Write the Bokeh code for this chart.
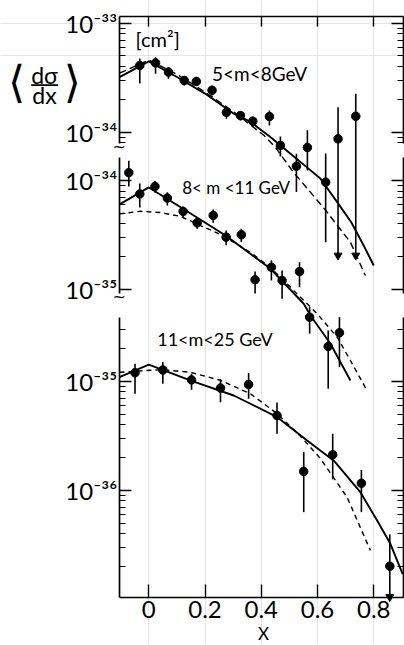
from bokeh.plotting import figure
from bokeh.models import (Range1d, LogScale, LogAxis, LinearAxis, FixedTicker,
                          CustomJSTickFormatter, Label, Arrow, ColumnDataSource)
from bokeh.embed import file_html
from bokeh.resources import INLINE

# ---------------- data ----------------
# Panel 1 : 5 < m < 8 GeV
x1 = [-0.032, 0.024, 0.070, 0.126, 0.169, 0.225, 0.276, 0.326, 0.370, 0.429,
      0.468, 0.525, 0.564, 0.629, 0.673, 0.736]
y1 = [4.09e-34, 4.32e-34, 3.56e-34, 2.98e-34, 2.92e-34, 2.42e-34, 1.52e-34, 1.42e-34,
      1.26e-34, 1.39e-34, 7.55e-35, 4.88e-35, 7.24e-35, 3.48e-35, 8.69e-35, 1.40e-34]
hi1 = [4.74e-34, 4.88e-34, 3.94e-34, 3.20e-34, 3.20e-34, 2.68e-34, 1.69e-34, 1.52e-34,
       1.39e-34, 1.58e-34, 9.14e-35, 6.34e-35, 1.04e-34, 6.38e-35, 1.69e-34, 2.25e-34]
lo1 = [2.80e-34, 3.44e-34, 3.09e-34, 2.68e-34, 2.68e-34, 2.17e-34, 1.33e-34, 1.28e-34,
       1.11e-34, 1.15e-34, 5.98e-35, 2.82e-35, 4.46e-35, 9.79e-36, 7.40e-36, 7.40e-36]
arrow1 = [False] * 14 + [True, True]
sx1 = [-0.104, 0.0, 0.1, 0.2, 0.3, 0.36, 0.43, 0.49, 0.54, 0.61, 0.67, 0.72, 0.764, 0.80]
sy1 = [3.20e-34, 4.46e-34, 3.21e-34, 2.26e-34, 1.49e-34, 1.25e-34, 9.14e-35, 6.79e-35,
       5.31e-35, 3.76e-35, 2.28e-35, 1.49e-35, 9.14e-36, 5.98e-36]
dx1 = [-0.104, 0.0, 0.1, 0.2, 0.3, 0.41, 0.45, 0.514, 0.585, 0.634, 0.669, 0.717, 0.77]
dy1 = [3.48e-34, 4.59e-34, 3.39e-34, 2.34e-34, 1.55e-34, 9.33e-35, 7.28e-35, 4.30e-35,
       2.62e-35, 1.85e-35, 1.41e-35, 9.79e-36, 4.84e-36]

# Panel 2 : 8 < m < 11 GeV
x2 = [-0.071, -0.032, 0.022, 0.066, 0.122, 0.172, 0.229, 0.275, 0.329, 0.378,
      0.436, 0.474, 0.536, 0.572, 0.638, 0.678]
y2 = [1.18e-34, 7.52e-35, 8.81e-35, 6.90e-35, 5.20e-35, 4.09e-35, 4.78e-35, 3.02e-35,
      3.18e-35, 1.23e-35, 1.60e-35, 1.21e-35, 1.46e-35, 5.57e-36, 3.00e-36, 4.01e-36]
hi2 = [1.52e-34, 9.38e-35, 9.89e-35, 7.81e-35, 5.77e-35, 4.61e-35, 5.42e-35, 3.48e-35,
       3.61e-35, 1.46e-35, 1.85e-35, 1.49e-35, 1.78e-35, 6.89e-36, 4.21e-36, 5.57e-36]
lo2 = [8.81e-35, 5.65e-35, 7.76e-35, 5.90e-35, 4.61e-35, 3.61e-35, 4.09e-35, 2.54e-35,
       2.72e-35, 9.18e-36, 1.21e-35, 8.22e-36, 1.05e-35, 3.93e-36, 1.23e-36, 1.94e-36]
sx2 = [-0.104, 0.0, 0.122, 0.273, 0.433, 0.551, 0.575, 0.646, 0.717]
sy2 = [6.03e-35, 8.63e-35, 5.50e-35, 3.13e-35, 1.55e-35, 7.40e-36, 5.77e-36, 3.18e-36, 1.46e-36]
dx2 = [-0.104, -0.030, 0.042, 0.113, 0.184, 0.255, 0.362, 0.433, 0.551, 0.599, 0.670, 0.717, 0.777]
dy2 = [4.94e-35, 5.22e-35, 5.08e-35, 4.68e-35, 3.86e-35, 3.20e-35, 2.18e-35, 1.59e-35,
       7.93e-36, 5.98e-36, 3.65e-36, 2.23e-36, 1.17e-36]

# Panel 3 : 11 < m < 25 GeV
x3 = [-0.049, 0.050, 0.152, 0.255, 0.355, 0.456, 0.551, 0.654, 0.756, 0.857]
y3 = [1.20e-35, 1.27e-35, 1.03e-35, 8.68e-36, 9.35e-36, 4.85e-36, 1.49e-36, 2.12e-36,
      1.16e-36, 2.01e-37]
hi3 = [1.45e-35, 1.50e-35, 1.17e-35, 1.05e-35, 1.19e-35, 6.40e-36, 2.24e-36, 3.30e-36,
       1.54e-36, 3.93e-37]
lo3 = [7.67e-36, 9.48e-36, 8.35e-36, 6.43e-36, 6.90e-36, 3.30e-36, 6.30e-37, 1.26e-36,
       6.30e-37, 1.05e-37]
arrow3 = [False] * 9 + [True]
sx3 = [-0.104, 0.0, 0.152, 0.302, 0.457, 0.563, 0.658, 0.753, 0.812, 0.859, 0.903]
sy3 = [1.09e-35, 1.42e-35, 1.01e-35, 7.41e-36, 4.69e-36, 2.86e-36, 1.87e-36, 9.55e-37,
       5.28e-37, 3.23e-37, 1.70e-37]
dx3 = [-0.104, 0.042, 0.148, 0.255, 0.362, 0.457, 0.540, 0.610, 0.705, 0.788]
dy3 = [1.21e-35, 1.28e-35, 1.21e-35, 1.02e-35, 7.67e-36, 5.04e-36, 3.12e-36, 1.96e-36,
       8.65e-37, 2.81e-37]

x_ticks = [0, 0.2, 0.4, 0.6, 0.8]
panel_titles = ["5<m<8GeV", "8< m <11 GeV", "11<m<25 GeV"]

# ---------------- figure ----------------
# The frame covers the whole canvas; the visible box is drawn with fixed-location axes.
FONT = "Lato"
X_LEFT, X_RIGHT = -0.105, 0.904          # x of the drawn box edges
Y_TOP1, Y_BOT1 = 10 ** -32.936, 10 ** -38.273   # box top / bottom in panel-1 units
XR = Range1d(-0.5273, 0.9093)
p = figure(width=404, height=644, min_border=0,
           x_range=XR, y_range=Range1d(10 ** -38.700, 10 ** -32.792),
           y_axis_type="log", x_axis_location=None, y_axis_location=None,
           output_backend="svg", toolbar_location=None)
p.extra_y_ranges = {"p2": Range1d(10 ** -38.257, 10 ** -32.349),
                    "p3": Range1d(10 ** -37.415, 10 ** -31.506)}
p.extra_y_scales = {"p2": LogScale(), "p3": LogScale()}
p.outline_line_color = None
p.background_fill_color = "white"
p.border_fill_color = "white"

sup_fmt = CustomJSTickFormatter(code="""
const e = Math.round(Math.log10(tick));
const s = {'-':'\u207b','0':'\u2070','1':'\u00b9','2':'\u00b2','3':'\u00b3','4':'\u2074',
           '5':'\u2075','6':'\u2076','7':'\u2077','8':'\u2078','9':'\u2079'};
return '10' + String(e).split('').map(c => s[c]).join('');
""")
blank_fmt = CustomJSTickFormatter(code="return '';")


def minors(lo, hi):
    out = []
    for e in range(-38, -31):
        for k in range(2, 10):
            v = k * 10.0 ** e
            if lo <= v <= hi:
                out.append(v)
    return out


panels = [
    ("default", (10 ** -34.104, Y_TOP1), [1e-34, 1e-33]),
    ("p2", (10 ** -35.037, 10 ** -33.789), [1e-35, 1e-34]),
    ("p3", (10 ** -36.988, 10 ** -34.415), [1e-36, 1e-35]),
]
for rname, bnds, majors in panels:
    for side, loc in (("left", X_LEFT), ("right", X_RIGHT)):
        ax = LogAxis(y_range_name=rname, bounds=bnds, fixed_location=loc,
                     ticker=FixedTicker(ticks=majors, minor_ticks=minors(*bnds)),
                     formatter=sup_fmt if side == "left" else blank_fmt,
                     axis_line_width=1.7, axis_line_color="black",
                     major_tick_in=12, major_tick_out=0, major_tick_line_width=1.4,
                     minor_tick_in=6, minor_tick_out=0, minor_tick_line_width=1.2,
                     major_label_standoff=2,
                     major_label_text_font=FONT, major_label_text_font_size="24px",
                     major_label_text_color="black")
        p.add_layout(ax, side)

xb = LinearAxis(ticker=FixedTicker(ticks=x_ticks, minor_ticks=[]),
                formatter=CustomJSTickFormatter(code="return tick === 0 ? '0' : tick.toFixed(1);"),
                bounds=(X_LEFT, X_RIGHT), fixed_location=Y_BOT1,
                axis_line_width=1.7, major_tick_in=13, major_tick_out=0,
                major_tick_line_width=1.4, minor_tick_in=0, minor_tick_out=0,
                major_label_standoff=3, major_label_text_font=FONT,
                major_label_text_font_size="24px", major_label_text_color="black")
p.add_layout(xb, "below")
xt = LinearAxis(ticker=FixedTicker(ticks=x_ticks, minor_ticks=[]), formatter=blank_fmt,
                bounds=(X_LEFT, X_RIGHT), fixed_location=Y_TOP1,
                axis_line_width=1.7, major_tick_in=10, major_tick_out=0,
                major_tick_line_width=1.4, minor_tick_in=0, minor_tick_out=0)
p.add_layout(xt, "above")

# ---------------- data glyphs ----------------
series = [
    ("default", x1, y1, hi1, lo1, arrow1, sx1, sy1, dx1, dy1, "7 4"),
    ("p2", x2, y2, hi2, lo2, [False] * len(x2), sx2, sy2, dx2, dy2, "5 4"),
    ("p3", x3, y3, hi3, lo3, arrow3, sx3, sy3, dx3, dy3, "5 4"),
]
for rname, xs, ys, his, los, arr, sxs, sys_, dxs, dys, dash in series:
    p.line(sxs, sys_, y_range_name=rname, line_color="black", line_width=1.9)
    p.line(dxs, dys, y_range_name=rname, line_color="black", line_width=1.4, line_dash=dash)
    src = ColumnDataSource(dict(x=xs, y=ys, hi=his, lo=los))
    p.segment(x0="x", y0="hi", x1="x", y1="lo", source=src, y_range_name=rname,
              line_color="black", line_width=1.6)
    p.scatter("x", "y", source=src, y_range_name=rname, size=8.5, color="black")
    ax_ = [x for x, a in zip(xs, arr) if a]
    ay_ = [l for l, a in zip(los, arr) if a]
    if ax_:
        p.scatter(ax_, ay_, y_range_name=rname, marker="inverted_triangle", size=8,
                  color="black")


# ---------------- texts ----------------
def lab(text, x, y, rname="default", size="19px", align="left", font=FONT,
        baseline="middle"):
    p.add_layout(Label(x=x, y=y, y_range_name=rname, text=text, text_font=font,
                       text_font_size=size, text_align=align, text_baseline=baseline,
                       text_color="black"))


lab("[cm\u00b2]", -0.047, 7.2e-34, size="20px")
lab(panel_titles[0], 0.225, 3.42e-34, size="19px")
lab(panel_titles[1], 0.119, 8.53e-35, "p2", size="17px")
lab(panel_titles[2], 0.030, 2.42e-35, "p3", size="18px")

# y-axis title  < d(sigma)/dx >
lab("\u27e8", -0.470, 2.92e-34, size="44px", align="center", font="DejaVu Sans")
lab("\u27e9", -0.272, 2.92e-34, size="44px", align="center", font="DejaVu Sans")
lab("d\u03c3", -0.371, 3.36e-34, size="23px", align="center")
lab("dx", -0.371, 2.18e-34, size="23px", align="center")
p.add_layout(Arrow(start=None, end=None, x_start=-0.418, x_end=-0.323,
                   y_start=2.70e-34, y_end=2.70e-34, line_width=1.6, line_color="black"))

# axis-break marks on the left edge
lab("~", X_LEFT, 10 ** -34.13, size="16px", align="center", font="DejaVu Sans")
lab("~", X_LEFT, 10 ** -35.06, "p2", size="16px", align="center", font="DejaVu Sans")

# x-axis title
lab("X", 0.408, 4.9e-38, "p3", size="17px", align="center")

open("out.html", "w", encoding="utf-8").write(file_html(p, INLINE))
